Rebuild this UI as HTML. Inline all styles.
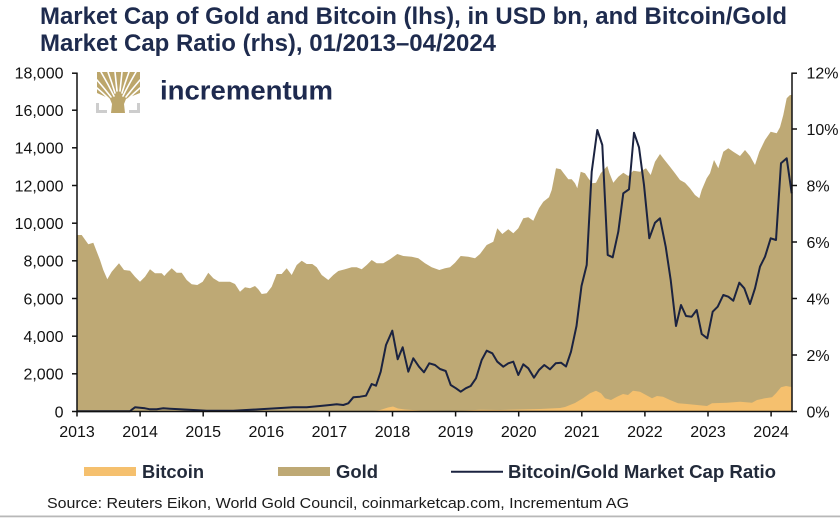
<!DOCTYPE html>
<html><head><meta charset="utf-8"><style>
html,body{margin:0;padding:0;background:#fff;}
svg{display:block;}
text{font-family:"Liberation Sans",Arial,sans-serif;}
</style></head><body>
<svg width="840" height="518" viewBox="0 0 840 518" xmlns="http://www.w3.org/2000/svg">
<rect width="840" height="518" fill="#fff"/>
<!-- Title -->
<text x="40" y="24" font-size="24" font-weight="bold" fill="#1e2b4e" textLength="747" lengthAdjust="spacingAndGlyphs">Market Cap of Gold and Bitcoin (lhs), in USD bn, and Bitcoin/Gold</text>
<text x="40" y="51" font-size="24" font-weight="bold" fill="#1e2b4e" textLength="456" lengthAdjust="spacingAndGlyphs">Market Cap Ratio (rhs), 01/2013–04/2024</text>

<!-- Gold area -->
<polygon fill="#bea975" points="77,411.5 77,235 81.7,235 88.3,244.3 93.3,242.7 100,260 103.3,270 107.3,279.3 111.7,271.7 119,263.3 124,270 130,270.7 135,276.7 140,281.7 145,276.7 150,269.3 155,273.3 161.7,273.3 164.3,276 166.7,273.3 171.7,268.3 176.7,272.7 181.7,272.7 186.7,280 191.7,284.3 197.3,285 202.7,281.7 208.3,272.7 213.3,278.3 219,281.7 225,281.7 230,281.7 235,284 240,291.7 245,287.3 250,288.3 255,286 258.3,289.3 261.7,294 266.7,293.3 271.7,286.7 276.7,274 281.7,274 286.7,268.3 291.7,275 296.7,265 301.7,260.7 306.7,264 312.3,264 316.7,267.3 321.7,275 328.3,280 333.3,275 338.3,271 345,269.3 351.7,267.3 356.7,267.3 361.7,269.3 366.7,265 371.7,260 376.7,263.3 383.3,263.3 390,259.3 397.3,254 403.3,256 411.7,256.7 418.3,258.3 425,263.3 431.7,267.3 439.3,270 445,268.3 450,267.3 455,262.7 460.7,256 468.3,256.7 475,258.3 480,254 486.7,245 493.3,241.7 497.3,228.3 502.3,234 508.3,229.3 513.3,233.3 518.3,228.3 523.3,218.3 528.3,217.3 533.3,220.7 539,208.3 543.3,201.7 549,197.3 551.7,190 556,168.3 560.7,169.3 563.3,172.7 568.3,179.3 571.7,179.3 575,183.3 577.3,188.3 580.7,171.7 585,173.3 588.3,178.3 592.3,183.3 596,182.7 600.7,173.3 607.3,166 609.3,172.7 613.3,182.7 618.3,176.7 623.3,172.7 628.3,176 633.3,170.7 640,171.7 646,168.3 650.7,175 655,161.7 660,154 664,159.3 670,166.7 675,173.3 680,180 685,182.7 690,188.3 695,195 699.3,198.3 701.7,190 706.7,178.3 710,173.3 714,160 718.3,168.3 723.3,151.7 728.3,148.3 733.3,151.7 740,156 745,150 750,156 755,165 759.3,151.7 765,140 770.7,131.7 776.7,133.3 780,127.3 783.3,115 786.7,98.3 790,95 792,95 792,411.5"/>

<!-- Bitcoin area -->
<polygon fill="#f5c06e" points="77,411.5 370,411.5 380,410 388,407.5 393,406.5 398,408.5 405,409.5 420,410.5 450,411 470,410.3 480,409.8 500,410 520,409.5 540,409 550,408.5 560,408 565,407 570,405 575,403 580,400 583,398.3 590,393.3 596,390.7 601,393.3 605,398.3 611,400 617,396.7 623,394 628,395 633,390.7 640,391.7 646,395 652,398.3 657,396 663,396.7 670,400 678,403.3 687,404 697,405 707,406 712,403.3 727,402.7 740,401.7 752,402.7 757,400 765,398.3 772,397.3 776,393.3 781,387.3 786,386 790,386.7 792,387 792,411.5"/>

<!-- Ratio line -->
<polyline fill="none" stroke="#1b2340" stroke-width="2" stroke-linejoin="round" points="77,411.3 100,411.3 130,411.3 132.3,409.3 135,407.3 140,407.7 145,408.3 150,409.3 156.7,409.3 163.3,408.3 170,408.7 180,409.3 193.3,410 206.7,410.7 233.3,410.7 260,409.3 276.7,408.3 293.3,407.3 306.7,407.3 320,406 330,405 336.7,404.3 343.3,405 348.3,403.3 353.3,397.3 360,396.7 366,395.7 371.7,384 376,385.7 380.7,371.7 386,345 392.3,330.7 397.7,359.3 402.7,347.3 408.3,371.7 413.3,358.3 419,366.7 424,372.3 429.3,363.3 435,365 440,369 445.7,371 450.7,385 456,388.3 460.7,391.7 465.7,388.3 470.7,386 476,378.3 481.7,360 486.7,350.7 492.3,353.3 497.3,361.7 503.3,366.7 508.3,363.3 513.3,361.7 518.3,375 523.3,364.3 528.3,368.3 534,377.7 539,370 544.3,365 550,369.3 555.7,363.3 561,362.7 566,366.5 571,351.7 576.5,326 581.5,286 586.7,265 591.7,171.7 597.3,130 602.3,145 607.7,255 612.7,257.3 618.3,231.7 623.3,193.3 629,189.3 634,132.7 639,147.3 644,185 649.3,238.3 655,222.7 660,218.3 665.7,246.7 670.7,280 676,326 681,305 686,316 691.7,316.7 696.7,310 701.7,334 707.3,338.3 712.7,311.7 717.7,306.7 723.3,295 728.3,296.7 733.3,300.7 739.3,282.7 744.3,288.3 750,304 755,288.3 760,266.7 765,256.7 770.7,238.3 776,240 781,163.3 786.7,158.3 791.7,193.3"/>

<!-- Axes -->
<g stroke="#111" stroke-width="1.5" fill="none">
<line x1="77" y1="72.5" x2="77" y2="412"/>
<line x1="76.3" y1="411.5" x2="792.7" y2="411.5"/>
<line x1="792" y1="72.5" x2="792" y2="412"/>
<line x1="72" y1="411.5" x2="77" y2="411.5"/>
<line x1="72" y1="373.8" x2="77" y2="373.8"/>
<line x1="72" y1="336.2" x2="77" y2="336.2"/>
<line x1="72" y1="298.5" x2="77" y2="298.5"/>
<line x1="72" y1="260.8" x2="77" y2="260.8"/>
<line x1="72" y1="223.2" x2="77" y2="223.2"/>
<line x1="72" y1="185.5" x2="77" y2="185.5"/>
<line x1="72" y1="147.8" x2="77" y2="147.8"/>
<line x1="72" y1="110.2" x2="77" y2="110.2"/>
<line x1="72" y1="73.2" x2="77" y2="73.2"/>
<line x1="792" y1="411.5" x2="797" y2="411.5"/>
<line x1="792" y1="355" x2="797" y2="355"/>
<line x1="792" y1="298.5" x2="797" y2="298.5"/>
<line x1="792" y1="242" x2="797" y2="242"/>
<line x1="792" y1="185.5" x2="797" y2="185.5"/>
<line x1="792" y1="129" x2="797" y2="129"/>
<line x1="792" y1="73.2" x2="797" y2="73.2"/>
<line x1="77" y1="411.5" x2="77" y2="416.5"/>
<line x1="140.1" y1="411.5" x2="140.1" y2="416.5"/>
<line x1="203.2" y1="411.5" x2="203.2" y2="416.5"/>
<line x1="266.3" y1="411.5" x2="266.3" y2="416.5"/>
<line x1="329.4" y1="411.5" x2="329.4" y2="416.5"/>
<line x1="392.5" y1="411.5" x2="392.5" y2="416.5"/>
<line x1="455.6" y1="411.5" x2="455.6" y2="416.5"/>
<line x1="518.7" y1="411.5" x2="518.7" y2="416.5"/>
<line x1="581.8" y1="411.5" x2="581.8" y2="416.5"/>
<line x1="644.9" y1="411.5" x2="644.9" y2="416.5"/>
<line x1="708" y1="411.5" x2="708" y2="416.5"/>
<line x1="771.1" y1="411.5" x2="771.1" y2="416.5"/>
</g>

<!-- Left labels -->
<g font-size="16" fill="#111" text-anchor="end">
<text x="63.5" y="417.3">0</text>
<text x="63.5" y="379.6">2,000</text>
<text x="63.5" y="342">4,000</text>
<text x="63.5" y="304.3">6,000</text>
<text x="63.5" y="266.6">8,000</text>
<text x="63.5" y="229">10,000</text>
<text x="63.5" y="191.3">12,000</text>
<text x="63.5" y="153.6">14,000</text>
<text x="63.5" y="116">16,000</text>
<text x="63.5" y="78.5">18,000</text>
</g>
<!-- Right labels -->
<g font-size="16" fill="#111">
<text x="806.5" y="417.3">0%</text>
<text x="806.5" y="360.8">2%</text>
<text x="806.5" y="304.3">4%</text>
<text x="806.5" y="247.8">6%</text>
<text x="806.5" y="191.3">8%</text>
<text x="806.5" y="134.8">10%</text>
<text x="806.5" y="78.5">12%</text>
</g>
<!-- Year labels -->
<g font-size="16" fill="#111" text-anchor="middle">
<text x="77" y="437">2013</text>
<text x="140.1" y="437">2014</text>
<text x="203.2" y="437">2015</text>
<text x="266.3" y="437">2016</text>
<text x="329.4" y="437">2017</text>
<text x="392.5" y="437">2018</text>
<text x="455.6" y="437">2019</text>
<text x="518.7" y="437">2020</text>
<text x="581.8" y="437">2021</text>
<text x="644.9" y="437">2022</text>
<text x="708" y="437">2023</text>
<text x="771.1" y="437">2024</text>
</g>

<!-- Logo -->
<g>
  <path fill="#bca66b" d="M97,72 L140,72 L140,93 Q132,96 126,99 L124,104 L125,113 L111,113 L112,104 L110,99 Q104,96 97,93 Z"/>
  <g stroke="#fff" stroke-width="1.6" fill="none" stroke-linecap="round">
    <path d="M114,96 Q108,84 101,72"/>
    <path d="M115,93 Q112,83 108,72"/>
    <path d="M117,91 L115,72"/>
    <path d="M120,91 L122,72"/>
    <path d="M122,93 Q125,83 129,72"/>
    <path d="M123,96 Q129,84 136,72"/>
    <path d="M111,97 Q104,88 97,80"/>
    <path d="M126,97 Q133,88 140,80"/>
    <path d="M109,99 Q103,93 97,88"/>
    <path d="M128,99 Q134,93 140,88"/>
  </g>
  <g fill="#cdcdcd">
    <rect x="96" y="103" width="3" height="10"/>
    <rect x="96" y="110" width="11" height="3"/>
    <rect x="137" y="103" width="3" height="10"/>
    <rect x="129" y="110" width="11" height="3"/>
  </g>
  <text x="160" y="99.5" font-size="27" font-weight="bold" fill="#1e2a4f" textLength="173" lengthAdjust="spacingAndGlyphs">incrementum</text>
</g>

<!-- Legend -->
<rect x="84" y="467" width="52" height="9" fill="#f5c06e"/>
<text x="142" y="478" font-size="18" font-weight="bold" fill="#222a3a" textLength="62" lengthAdjust="spacingAndGlyphs">Bitcoin</text>
<rect x="278" y="467" width="52" height="9" fill="#bea975"/>
<text x="336" y="478" font-size="18" font-weight="bold" fill="#222a3a" textLength="42" lengthAdjust="spacingAndGlyphs">Gold</text>
<line x1="451" y1="471.7" x2="503" y2="471.7" stroke="#1b2340" stroke-width="2"/>
<text x="508" y="478" font-size="18" font-weight="bold" fill="#222a3a" textLength="268" lengthAdjust="spacingAndGlyphs">Bitcoin/Gold Market Cap Ratio</text>

<!-- Source -->
<text x="47" y="508" font-size="15" fill="#1a1a1a" textLength="582" lengthAdjust="spacingAndGlyphs">Source: Reuters Eikon, World Gold Council, coinmarketcap.com, Incrementum AG</text>
<rect x="0" y="515.5" width="840" height="1.8" fill="#b8b8b8"/>
</svg>
</body></html>
